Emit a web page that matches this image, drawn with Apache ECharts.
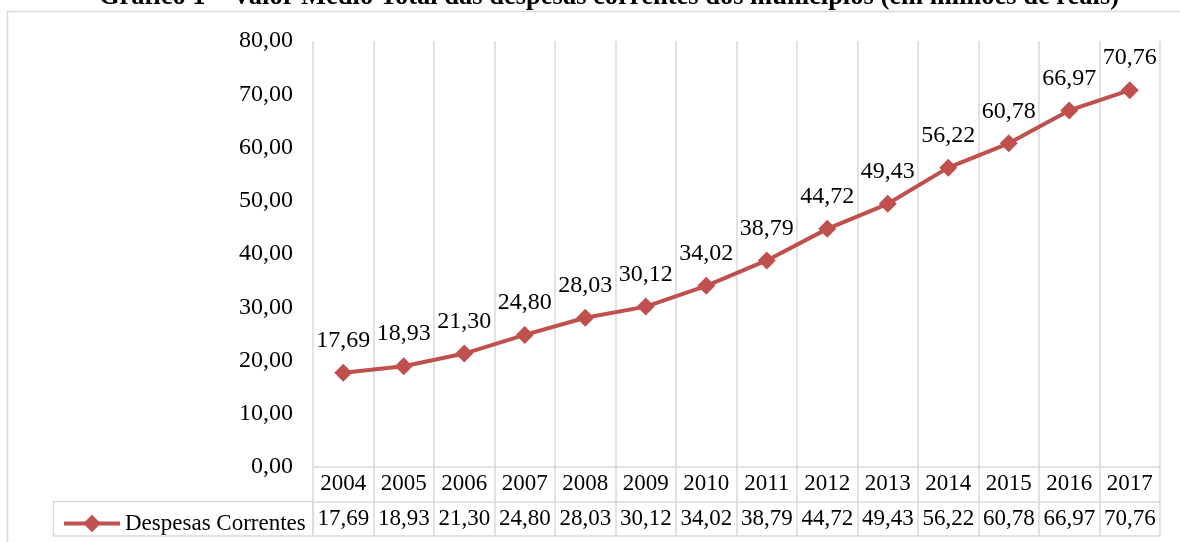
<!DOCTYPE html>
<html>
<head>
<meta charset="utf-8">
<script src="https://cdn.jsdelivr.net/npm/echarts@6/dist/echarts.min.js"></script>
<style>
html,body{margin:0;padding:0;background:#fff;}
#main{width:1180px;height:542px;}
</style>
</head>
<body>
<div id="main"></div>
<script>
const title = 'Gráfico 1 – Valor Médio Total das despesas correntes dos municípios (em milhões de reais)';
const seriesName = 'Despesas Correntes';
const years = ['2004','2005','2006','2007','2008','2009','2010','2011','2012','2013','2014','2015','2016','2017'];
const values = [17.69,18.93,21.30,24.80,28.03,30.12,34.02,38.79,44.72,49.43,56.22,60.78,66.97,70.76];
const yTicks = {min:0, max:80, interval:10};

const FONT = '"Liberation Serif", "Times New Roman", serif';
const RED = '#C0504D';
const GRIDC = '#d9d9d9';
const fmt = v => v.toFixed(2).replace('.', ',');

const G = {left:313, right:20, top:41, bottom:542-467};
const T = {top:467, height:69};

const chart = echarts.init(document.getElementById('main'), null, {renderer:'canvas'});
chart.setOption({
  animation:false,
  backgroundColor:'#fff',
  textStyle:{fontFamily:FONT},
  graphic:[
    {type:'rect', shape:{x:7.5, y:11.5, width:1300, height:700}, style:{fill:'none', stroke:GRIDC, lineWidth:1.5}, silent:true, z:-10},
    {type:'text', x:609, y:11, style:{text:title, font:'bold 26.5px '+FONT, fill:'#000', textAlign:'center', textVerticalAlign:'bottom'}, silent:true},
    {type:'rect', shape:{x:53.5, y:501.5, width:259.5, height:34.5}, style:{fill:'none', stroke:GRIDC, lineWidth:1.5}, silent:true}
  ],
  legend:{
    show:true, left:57, top:507, itemWidth:56, itemHeight:22, itemGap:0,
    data:[{name:seriesName}],
    lineStyle:{width:4},
    textStyle:{fontFamily:FONT, fontSize:23, color:'#000'}
  },
  grid:[
    {left:G.left, right:G.right, top:G.top, bottom:G.bottom, containLabel:false},
    {left:G.left, right:G.right, top:T.top, height:T.height, containLabel:false}
  ],
  xAxis:[
    {type:'category', gridIndex:0, data:years, boundaryGap:true,
     axisLine:{show:false}, axisTick:{show:false},
     axisLabel:{show:false},
     splitLine:{show:true, interval:0, lineStyle:{color:GRIDC, width:1.5}}},
    {type:'category', gridIndex:1, data:years, boundaryGap:true, position:'top',
     axisLine:{show:false}, axisTick:{show:false},
     axisLabel:{show:true, inside:true, interval:0, margin:0, fontFamily:FONT, fontSize:23, color:'#000',
       formatter:(v, i) => '{y|' + v + '}\n{v|' + fmt(values[i]) + '}',
       rich:{y:{fontFamily:FONT, fontSize:23, lineHeight:34, color:'#000'}, v:{fontFamily:FONT, fontSize:23, lineHeight:35, color:'#000'}}},
     splitLine:{show:true, interval:0, lineStyle:{color:GRIDC, width:1.5}}}
  ],
  yAxis:[
    {type:'value', gridIndex:0, min:yTicks.min, max:yTicks.max, interval:yTicks.interval,
     axisLine:{show:false}, axisTick:{show:false}, splitLine:{show:false},
     axisLabel:{margin:20, fontFamily:FONT, fontSize:24, color:'#000', formatter:v => fmt(v)}},
    {type:'value', gridIndex:1, min:0, max:2, interval:1,
     axisLine:{show:false}, axisTick:{show:false}, axisLabel:{show:false},
     splitLine:{show:true, lineStyle:{color:GRIDC, width:1.5}}}
  ],
  series:[
    {name:seriesName, type:'line', xAxisIndex:0, yAxisIndex:0, data:values,
     symbol:'diamond', symbolSize:18, itemStyle:{color:RED},
     lineStyle:{color:RED, width:4},
     label:{show:true, position:'top', distance:11, fontFamily:FONT, fontSize:24, color:'#000', formatter:p => fmt(p.value)}}
  ]
});
</script>
</body>
</html>
